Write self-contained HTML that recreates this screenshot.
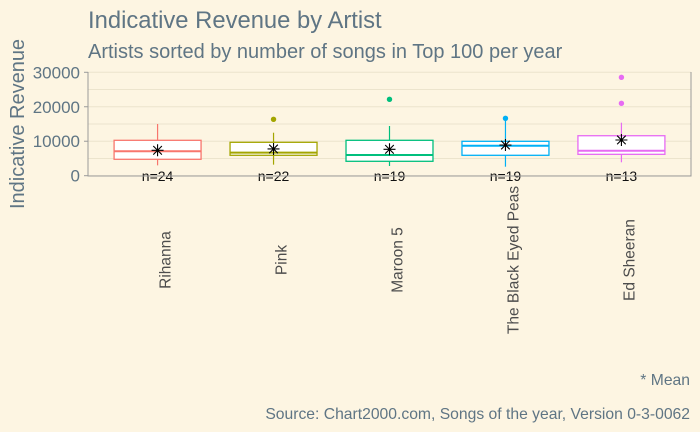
<!DOCTYPE html>
<html><head><meta charset="utf-8"><style>
body{margin:0;background:#fdf5e2;}
svg{display:block;font-family:"Liberation Sans",sans-serif;}
</style></head><body>
<svg id="chart" width="700" height="432" viewBox="0 0 700 432">
<rect x="0" y="0" width="700" height="432" fill="#fdf5e2"/>
<text x="88" y="28" font-size="23.8" fill="#5f7584">Indicative Revenue by Artist</text>
<text x="88" y="58" font-size="20" fill="#5f7584">Artists sorted by number of songs in Top 100 per year</text>
<text transform="translate(24,124) rotate(-90)" text-anchor="middle" font-size="20" fill="#5f7584">Indicative Revenue</text>
<g id="grid"></g>
<g id="marks"></g>
<path d="M88 72V176H691V72" fill="none" stroke="#9a9a9a" stroke-width="1"/>
<g id="yaxis"></g>
<g id="xaxis"></g>
<text x="690" y="385" text-anchor="end" font-size="15.7" fill="#5f7584">* Mean</text>
<text x="690" y="419" text-anchor="end" font-size="15.7" fill="#5f7584">Source: Chart2000.com, Songs of the year, Version 0-3-0062</text>
</svg>
<script>
const artists=["Rihanna","Pink","Maroon 5","The Black Eyed Peas","Ed Sheeran"];
const counts=[24,22,19,19,13];
const q1=[4760,5920,4180,5920,6200];
const medians=[7080,6680,6000,8700,7250];
const q3=[10270,9690,10270,9980,11600];
const whiskerLow=[3000,3200,2810,2610,3890];
const whiskerHigh=[15000,12470,14420,16000,15380];
const means=[7370,7750,7660,8900,10360];
const outliers=[[],[16360],[22160],[16650],[28540,21000]];
const colors=["#f8766d","#a3a500","#00bf7d","#00b0f6","#e76bf3"];
const yTicks=[0,10000,20000,30000];
const yGrid=[0,5000,10000,15000,20000,25000,30000];

const NS="http://www.w3.org/2000/svg";
const x0=88,pw=603,step=pw/5.2;
function xs(i){return x0+step*(0.6+i);}
function ys(v){return 175.7-v*0.003447;}
function mk(tag,attrs,parent){const e=document.createElementNS(NS,tag);for(const k in attrs)e.setAttribute(k,attrs[k]);document.getElementById(parent).appendChild(e);return e;}

yGrid.forEach(v=>{
  const l=mk("line",{x1:x0,x2:x0+pw,y1:ys(v),y2:ys(v),stroke:"#ece4cd","stroke-width":1},"grid");
  
  
});
yTicks.forEach(v=>{
  const t=mk("line",{x1:x0-4,x2:x0,y1:ys(v),y2:ys(v),stroke:"#9a9a9a"},"yaxis");
  
  
  const tx=mk("text",{x:x0-8,y:ys(v)+6,"text-anchor":"end","font-size":17,fill:"#5f7584"},"yaxis");
  tx.textContent=v;
  
  
});
const bw=step*0.75;
artists.forEach((a,i)=>{
  const cx=xs(i),c=colors[i];
  const g=mk("g",{},"marks");
  
  
  const w1=document.createElementNS(NS,"line");
  [["x1",cx],["x2",cx],["y1",ys(q3[i])],["y2",ys(whiskerHigh[i])],["stroke",c],["stroke-width",1.2]].forEach(p=>w1.setAttribute(p[0],p[1]));
  
  
  g.appendChild(w1);
  const w2=document.createElementNS(NS,"line");
  [["x1",cx],["x2",cx],["y1",ys(q1[i])],["y2",ys(whiskerLow[i])],["stroke",c],["stroke-width",1.2]].forEach(p=>w2.setAttribute(p[0],p[1]));
  
  
  g.appendChild(w2);
  const r=document.createElementNS(NS,"rect");
  [["x",cx-bw/2],["y",ys(q3[i])],["width",bw],["height",ys(q1[i])-ys(q3[i])],["fill","#fff"],["stroke",c],["stroke-width",1.3]].forEach(p=>r.setAttribute(p[0],p[1]));
  
  
  g.appendChild(r);
  const m=document.createElementNS(NS,"line");
  [["x1",cx-bw/2],["x2",cx+bw/2],["y1",ys(medians[i])],["y2",ys(medians[i])],["stroke",c],["stroke-width",2]].forEach(p=>m.setAttribute(p[0],p[1]));
  
  
  g.appendChild(m);
  outliers[i].forEach(v=>{
    const o=document.createElementNS(NS,"circle");
    [["cx",cx],["cy",ys(v)],["r",2.7],["fill",c]].forEach(p=>o.setAttribute(p[0],p[1]));
    
    
    g.appendChild(o);
  });
  const my=ys(means[i]);
  const s=document.createElementNS(NS,"path");
  s.setAttribute("d",`M${cx-6} ${my}H${cx+6}M${cx} ${my-6}V${my+6}M${cx-4.3} ${my-4.3}L${cx+4.3} ${my+4.3}M${cx-4.3} ${my+4.3}L${cx+4.3} ${my-4.3}`);
  s.setAttribute("stroke","#000");s.setAttribute("stroke-width","1.1");
  
  
  g.appendChild(s);
  const n=document.createElementNS(NS,"text");
  n.setAttribute("x",cx);n.setAttribute("y",181);n.setAttribute("text-anchor","middle");n.setAttribute("font-size",14);n.setAttribute("fill","#111");
  n.textContent="n="+counts[i];
  
  
  g.appendChild(n);
  const lx=cx+13;
  const lab=mk("text",{transform:`translate(${lx},260) rotate(-90)`,"text-anchor":"middle","font-size":15.5,fill:"#4d4d4d"},"xaxis");
  lab.textContent=a;
  
  
});
</script>
</body></html>
